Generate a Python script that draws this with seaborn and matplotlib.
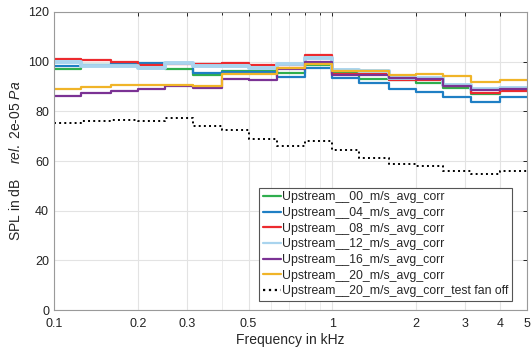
import numpy as np
import pandas as pd
import matplotlib
matplotlib.use("Agg")
import matplotlib.pyplot as plt
import seaborn as sns

# third-octave band centres (kHz), last band ends at 5 kHz
freq = [0.1, 0.125, 0.16, 0.2, 0.25, 0.315, 0.4, 0.5, 0.63, 0.8,
        1.0, 1.25, 1.6, 2.0, 2.5, 3.15, 4.0]
f_end = 5.0

spl_00 = [97.2, 98.6, 98.8, 97.6, 97.0, 94.8, 96.1, 96.2, 95.4, 98.5,
          95.4, 93.1, 92.5, 91.4, 89.4, 86.8, 88.4]
spl_04 = [98.2, 98.8, 99.5, 99.5, 99.3, 95.4, 96.0, 96.0, 93.8, 97.6,
          93.4, 91.3, 89.0, 87.8, 85.6, 83.9, 85.7]
spl_08 = [101.2, 100.5, 99.9, 98.8, 99.1, 99.0, 99.4, 98.5, 98.7, 102.8,
          95.0, 95.2, 92.7, 92.5, 90.0, 87.2, 88.0]
spl_12 = [99.9, 98.4, 98.4, 97.4, 99.3, 98.1, 98.1, 97.6, 99.1, 101.4,
          96.8, 96.1, 93.5, 93.4, 90.7, 89.0, 89.4]
spl_16 = [86.1, 87.4, 88.1, 88.8, 90.0, 89.4, 93.0, 92.8, 96.9, 99.9,
          94.8, 94.8, 93.3, 93.0, 90.3, 88.5, 89.0]
spl_20 = [89.0, 89.9, 90.6, 90.5, 90.5, 90.2, 95.0, 95.2, 97.4, 99.0,
          96.3, 96.2, 94.5, 95.2, 94.1, 91.9, 92.8]
spl_off = [75.3, 76.1, 76.6, 76.3, 77.3, 74.2, 72.6, 68.8, 66.1, 68.1,
           64.5, 61.2, 58.9, 57.8, 56.0, 54.6, 55.8]

names = ["Upstream__00_m/s_avg_corr", "Upstream__04_m/s_avg_corr",
         "Upstream__08_m/s_avg_corr", "Upstream__12_m/s_avg_corr",
         "Upstream__16_m/s_avg_corr", "Upstream__20_m/s_avg_corr",
         "Upstream__20_m/s_avg_corr_test fan off"]
series = [spl_00, spl_04, spl_08, spl_12, spl_16, spl_20, spl_off]
colors = ["#2fae4e", "#1f7fc4", "#ec2a2e", "#a9d4ee", "#7b3294", "#f0b428", "black"]
widths = [1.6, 1.6, 1.6, 2.8, 1.6, 1.6, 1.4]
styles = ["-", "-", "-", "-", "-", "-", ":"]

sns.set_style("white")
plt.rcParams["font.family"] = ["Liberation Sans", "DejaVu Sans"]
plt.rcParams["mathtext.fontset"] = "custom"
plt.rcParams["mathtext.it"] = "Liberation Sans:italic"
plt.rcParams["mathtext.rm"] = "Liberation Sans"

fig = plt.figure(figsize=(5.31, 3.56), dpi=100)
ax = fig.add_axes([0.1017, 0.1292, 0.8908, 0.8371])

for name, vals, c, lw, ls in zip(names, series, colors, widths, styles):
    df = pd.DataFrame({"f": freq + [f_end], "spl": vals + [vals[-1]]})
    sns.lineplot(data=df, x="f", y="spl", ax=ax, color=c, lw=lw, ls=ls,
                 drawstyle="steps-post", label=name, sort=False)

ax.set_xscale("log")
ax.set_xlim(0.1, 5)
ax.set_ylim(0, 120)

major = [0.1, 0.2, 0.3, 0.5, 1, 2, 3, 4, 5]
minor = [0.4, 0.6, 0.7, 0.8, 0.9]
ax.set_xticks(major)
ax.set_xticklabels(["0.1", "0.2", "0.3", "0.5", "1", "2", "3", "4", "5"])
ax.set_xticks(minor, minor=True)
ax.set_xticklabels([], minor=True)
ax.set_yticks(range(0, 121, 20))

ax.grid(True, which="major", color="#e3e3e3", lw=0.8)
ax.grid(True, which="minor", color="#ececec", lw=0.7)
ax.set_axisbelow(True)
ax.tick_params(which="both", direction="in", top=True, right=True,
               labelsize=9, colors="#222222", length=3, width=0.7)
ax.tick_params(axis="x", which="major", pad=6)
ax.tick_params(which="minor", length=2)
for s in ax.spines.values():
    s.set_color("#9a9a9a")
    s.set_linewidth(0.8)

ax.set_xlabel("Frequency in kHz", fontsize=10, labelpad=2)
ax.set_ylabel(r"SPL in dB    $\it{rel.}$ 2e-05 $\it{Pa}$", fontsize=10, labelpad=4)

leg = ax.legend(loc="lower right", bbox_to_anchor=(0.9685, 0.03), fontsize=8.8,
                frameon=True, fancybox=False, framealpha=1, edgecolor="#555555",
                handlelength=1.45, handletextpad=0.1, borderpad=0.3,
                labelspacing=0.3, borderaxespad=0)
leg.get_frame().set_linewidth(0.8)
for h in leg.get_lines():
    h.set_linewidth(1.6)

fig.savefig("out.png", dpi=100)
